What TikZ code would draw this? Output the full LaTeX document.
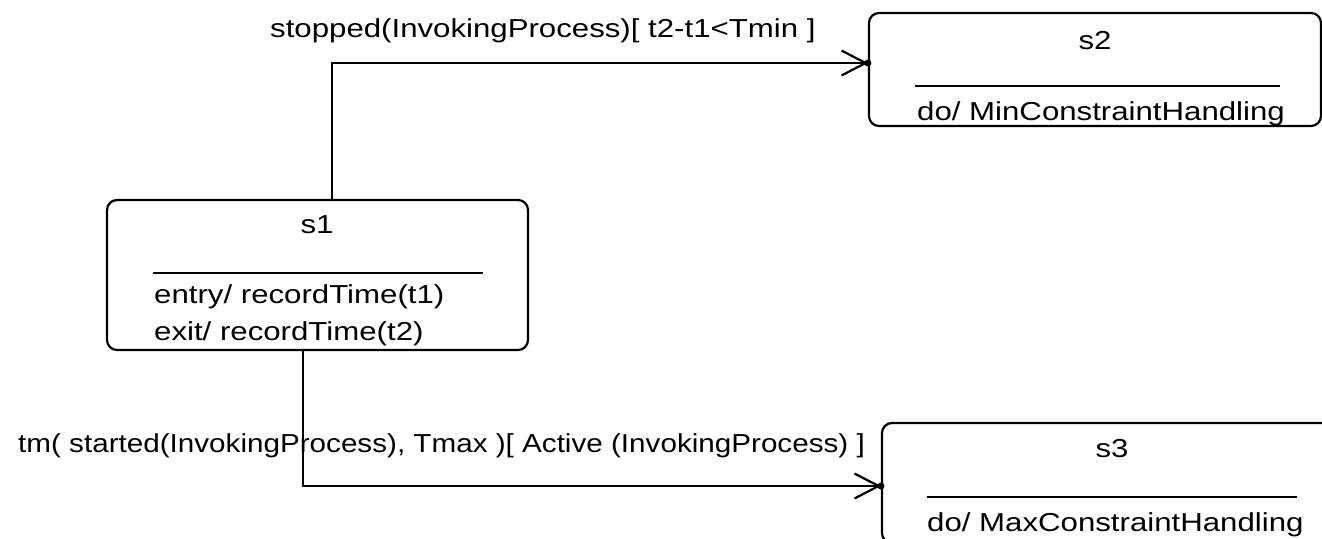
\documentclass[tikz,border=0pt]{standalone}
\usepackage{fontspec}
\setmainfont{Liberation Sans}[FakeStretch=1.2]
\newfontfamily\narrowlabel{Liberation Sans}[FakeStretch=1.14]
\usetikzlibrary{arrows.meta}
\tikzset{
  statebox/.style={draw, line width=2.2pt, rounded corners=10pt, inner sep=0pt},
  txt/.style={inner sep=0pt, font=\fontsize{26pt}{30pt}\selectfont},
  sep/.style={line width=2.2pt},
  trans/.style={line width=2.2pt, -{Straight Barb[length=24pt,width=25pt]}},
  dot/.style={fill, radius=3.5pt}
}
\begin{document}
\begin{tikzpicture}[x=1pt,y=-1pt]
\useasboundingbox (0,0) rectangle (1322,538);
\fill[white] (0,0) rectangle (1322,538);
\clip (0,0) rectangle (1322,538);
% states
\node[statebox, minimum width=421pt, minimum height=150pt] (s1) at (317.5,275) {};
\node[statebox, minimum width=452pt, minimum height=113pt] (s2) at (1095,69.5) {};
\node[statebox, minimum width=460pt, minimum height=120pt] (s3) at (1112,483) {};
% s1 contents
\node[txt, anchor=base] (s1t) at (317,233) {s1};
\draw[sep] (153,273) -- (483,273);
\node[txt, anchor=base west] (s1a) at (154,303) {entry/ recordTime(t1)};
\node[txt, anchor=base west] (s1b) at (154,340) {exit/ recordTime(t2)};
% s2 contents
\node[txt, anchor=base] (s2t) at (1095,49) {s2};
\draw[sep] (915,86) -- (1280,86);
\node[txt, anchor=base west] (s2a) at (917,120) {do/ MinConstraintHandling};
% s3 contents
\node[txt, anchor=base] (s3t) at (1112,457) {s3};
\draw[sep] (927,497) -- (1297,497);
\node[txt, anchor=base west] (s3a) at (927,531) {do/ MaxConstraintHandling};
% transitions
\coordinate (e1) at ([yshift=6.5pt]s2.west);
\coordinate (e2) at ([yshift=-3pt]s3.west);
\draw[trans] ([xshift=14.5pt]s1.north) |- (e1);
\fill[dot] (e1) circle;
\draw[trans] ([xshift=-14.5pt]s1.south) |- (e2);
\fill[dot] (e2) circle;
% labels
\node[txt, anchor=base west] (l1) at (270,37) {stopped(InvokingProcess)[ t2-t1<Tmin ]};
\node[txt, anchor=base west, font=\fontsize{26pt}{30pt}\narrowlabel] (l2) at (18,452) {tm( started(InvokingProcess), Tmax )[ Active (InvokingProcess) ]};
\end{tikzpicture}
\end{document}
